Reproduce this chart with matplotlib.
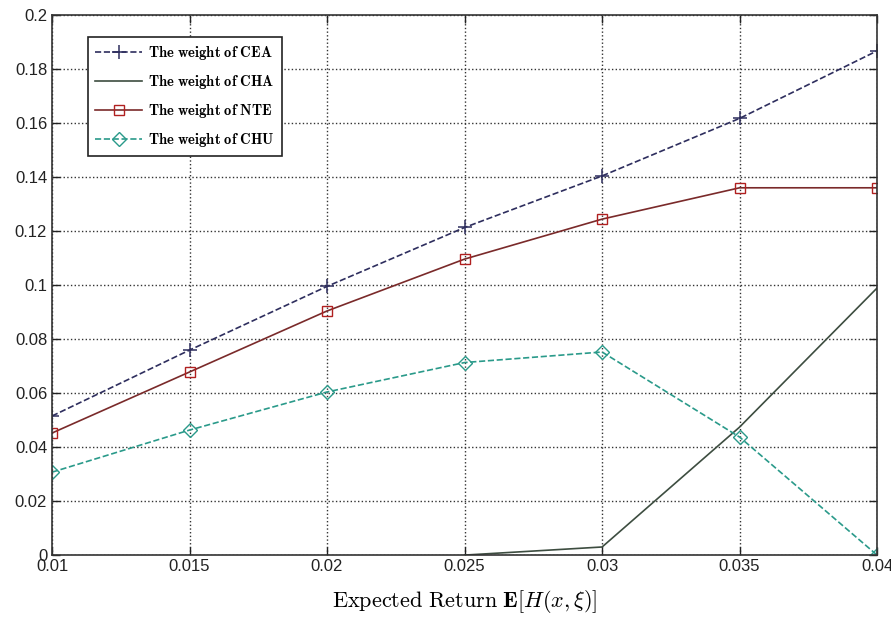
import matplotlib.pyplot as plt

plt.rcParams['mathtext.fontset'] = 'cm'
plt.rcParams['font.family'] = ['Liberation Sans', 'DejaVu Sans']

# 数据
returns = [0.01, 0.015, 0.02, 0.025, 0.03, 0.035, 0.04]
w_cea = [0.0515, 0.0759, 0.0995, 0.1213, 0.1404, 0.1617, 0.1867]
cha_returns = [0.025, 0.03, 0.035, 0.04]
w_cha = [0.0, 0.003, 0.0474, 0.0989]
w_nte = [0.0452, 0.0678, 0.0904, 0.1096, 0.1244, 0.1360, 0.1360]
w_chu = [0.0307, 0.0463, 0.0604, 0.0713, 0.0752, 0.0437, 0.0]

xticks = [0.01, 0.015, 0.02, 0.025, 0.03, 0.035, 0.04]
xtick_labels = ['0.01', '0.015', '0.02', '0.025', '0.03', '0.035', '0.04']
yticks = [0, 0.02, 0.04, 0.06, 0.08, 0.1, 0.12, 0.14, 0.16, 0.18, 0.2]
ytick_labels = ['0', '0.02', '0.04', '0.06', '0.08', '0.1', '0.12', '0.14',
                '0.16', '0.18', '0.2']

labels = [r'$\mathbf{The\ weight\ of\ CEA}$', r'$\mathbf{The\ weight\ of\ CHA}$',
          r'$\mathbf{The\ weight\ of\ NTE}$', r'$\mathbf{The\ weight\ of\ CHU}$']

fig = plt.figure(figsize=(8.91, 6.23), dpi=100)
ax = fig.add_axes([0.0584, 0.109, 0.926, 0.867])

ax.plot(returns, w_cea, '--', color='#2e2e5e', marker='+', markersize=10,
        markeredgewidth=1.1, linewidth=1.2, label=labels[0])
ax.plot(cha_returns, w_cha, '-', color='#3d4d40', linewidth=1.2, label=labels[1])
ax.plot(returns, w_nte, '-', color='#7a2a2a', marker='s', markersize=7,
        markerfacecolor='none', markeredgecolor='#b02020', markeredgewidth=1.0,
        linewidth=1.2, label=labels[2])
ax.plot(returns, w_chu, '--', color='#2a9a8a', marker='D', markersize=7,
        markerfacecolor='none', markeredgewidth=1.0, linewidth=1.2, label=labels[3])

ax.set_xlim(0.01, 0.04)
ax.set_ylim(0, 0.2)
ax.set_xticks(xticks)
ax.set_xticklabels(xtick_labels)
ax.set_yticks(yticks)
ax.set_yticklabels(ytick_labels)

ax.tick_params(direction='in', top=True, right=True, labelsize=12, length=6,
               width=1.0, colors='#222222')
ax.tick_params(axis='x', pad=3)
ax.grid(True, linestyle=':', color='#333333', linewidth=1.0)
for s in ax.spines.values():
    s.set_linewidth(1.2)
    s.set_color('#333333')

ax.set_xlabel(r'$\mathrm{Expected\ Return}\ \mathbf{E}[H(x,\xi)]$', fontsize=16, labelpad=10)

leg = ax.legend(loc='upper left', bbox_to_anchor=(0.0436, 0.959), borderaxespad=0,
                fontsize=10.5, fancybox=False, framealpha=1, edgecolor='#222222',
                handlelength=3.2, handletextpad=0.4, borderpad=0.5, labelspacing=0.75)
leg.get_frame().set_linewidth(1.2)

fig.savefig('out.png', dpi=100)
